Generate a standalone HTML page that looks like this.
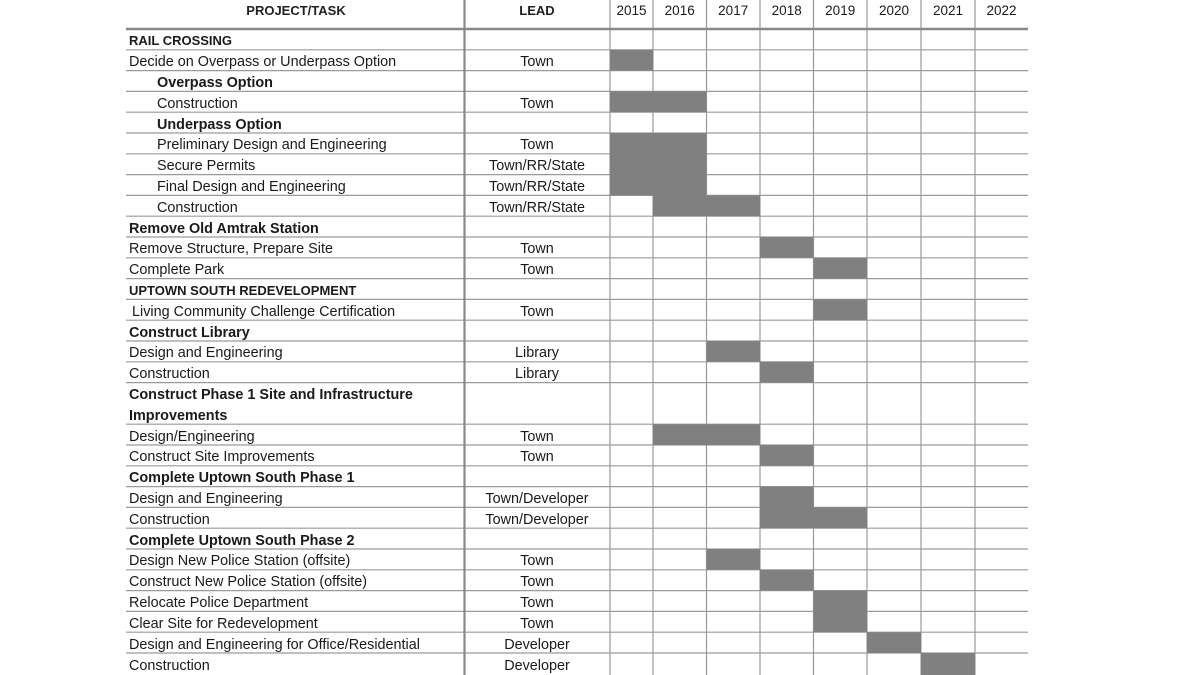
<!DOCTYPE html>
<html><head><meta charset="utf-8"><style>
html,body{margin:0;padding:0;background:#fff;}
svg{display:block;}
text{font-family:"Liberation Sans",sans-serif;font-size:14.4px;fill:#1a1a1a;}
.b{font-weight:bold;}
.c{text-anchor:middle;}
.h{font-size:13px;font-weight:bold;fill:#222;}
.y{font-size:13.5px;fill:#1a1a1a;}
</style></head><body>
<svg width="1200" height="675" viewBox="0 0 1200 675">
<g stroke="#9a9a9a" stroke-width="1.2">
<line x1="126" y1="49.8" x2="1028" y2="49.8"/><line x1="126" y1="70.6" x2="1028" y2="70.6"/><line x1="126" y1="91.4" x2="1028" y2="91.4"/><line x1="126" y1="112.2" x2="1028" y2="112.2"/><line x1="126" y1="133" x2="1028" y2="133"/><line x1="126" y1="153.8" x2="1028" y2="153.8"/><line x1="126" y1="174.6" x2="1028" y2="174.6"/><line x1="126" y1="195.4" x2="1028" y2="195.4"/><line x1="126" y1="216.2" x2="1028" y2="216.2"/><line x1="126" y1="237" x2="1028" y2="237"/><line x1="126" y1="257.8" x2="1028" y2="257.8"/><line x1="126" y1="278.6" x2="1028" y2="278.6"/><line x1="126" y1="299.4" x2="1028" y2="299.4"/><line x1="126" y1="320.2" x2="1028" y2="320.2"/><line x1="126" y1="341" x2="1028" y2="341"/><line x1="126" y1="361.8" x2="1028" y2="361.8"/><line x1="126" y1="382.6" x2="1028" y2="382.6"/><line x1="126" y1="424.2" x2="1028" y2="424.2"/><line x1="126" y1="445" x2="1028" y2="445"/><line x1="126" y1="465.8" x2="1028" y2="465.8"/><line x1="126" y1="486.6" x2="1028" y2="486.6"/><line x1="126" y1="507.4" x2="1028" y2="507.4"/><line x1="126" y1="528.2" x2="1028" y2="528.2"/><line x1="126" y1="549" x2="1028" y2="549"/><line x1="126" y1="569.8" x2="1028" y2="569.8"/><line x1="126" y1="590.6" x2="1028" y2="590.6"/><line x1="126" y1="611.4" x2="1028" y2="611.4"/><line x1="126" y1="632.2" x2="1028" y2="632.2"/><line x1="126" y1="653" x2="1028" y2="653"/>
<line x1="610" y1="0" x2="610" y2="675"/><line x1="653" y1="0" x2="653" y2="675"/><line x1="706.5" y1="0" x2="706.5" y2="675"/><line x1="760" y1="0" x2="760" y2="675"/><line x1="813.5" y1="0" x2="813.5" y2="675"/><line x1="867" y1="0" x2="867" y2="675"/><line x1="921" y1="0" x2="921" y2="675"/><line x1="975" y1="0" x2="975" y2="675"/>
</g>
<line x1="464.5" y1="0" x2="464.5" y2="675" stroke="#888" stroke-width="2.2"/>
<line x1="126" y1="29" x2="1028" y2="29" stroke="#888" stroke-width="2.6"/>
<g fill="#808080">
<rect x="610" y="49.8" width="43" height="20.8"/>
<rect x="610" y="91.4" width="96.5" height="20.8"/>
<rect x="610" y="133" width="96.5" height="62.4"/>
<rect x="653" y="195.4" width="107" height="20.8"/>
<rect x="760" y="237" width="53.5" height="20.8"/>
<rect x="813.5" y="257.8" width="53.5" height="20.8"/>
<rect x="813.5" y="299.4" width="53.5" height="20.8"/>
<rect x="706.5" y="341" width="53.5" height="20.8"/>
<rect x="760" y="361.8" width="53.5" height="20.8"/>
<rect x="653" y="424.2" width="107" height="20.8"/>
<rect x="760" y="445" width="53.5" height="20.8"/>
<rect x="760" y="486.6" width="53.5" height="20.8"/>
<rect x="760" y="507.4" width="107" height="20.8"/>
<rect x="706.5" y="549" width="53.5" height="20.8"/>
<rect x="760" y="569.8" width="53.5" height="20.8"/>
<rect x="813.5" y="590.6" width="53.5" height="41.6"/>
<rect x="867" y="632.2" width="54" height="20.8"/>
<rect x="921" y="653" width="54" height="22"/>
</g>
<g>
<text x="296" y="15" class="c h">PROJECT/TASK</text>
<text x="537" y="15" class="c h">LEAD</text>
<text x="631.5" y="15" class="c y">2015</text>
<text x="679.7" y="15" class="c y">2016</text>
<text x="733.2" y="15" class="c y">2017</text>
<text x="786.7" y="15" class="c y">2018</text>
<text x="840.2" y="15" class="c y">2019</text>
<text x="894" y="15" class="c y">2020</text>
<text x="948" y="15" class="c y">2021</text>
<text x="1001.5" y="15" class="c y">2022</text>

<text x="129" y="45" class="b" style="font-size:13px">RAIL CROSSING</text>
<text x="129" y="66">Decide on Overpass or Underpass Option</text>
<text x="157" y="87" class="b">Overpass Option</text>
<text x="157" y="108">Construction</text>
<text x="157" y="129" class="b">Underpass Option</text>
<text x="157" y="149">Preliminary Design and Engineering</text>
<text x="157" y="170">Secure Permits</text>
<text x="157" y="191">Final Design and Engineering</text>
<text x="157" y="212">Construction</text>
<text x="129" y="233" class="b">Remove Old Amtrak Station</text>
<text x="129" y="253">Remove Structure, Prepare Site</text>
<text x="129" y="274">Complete Park</text>
<text x="129" y="295" class="b" style="font-size:13px">UPTOWN SOUTH REDEVELOPMENT</text>
<text x="132" y="316">Living Community Challenge Certification</text>
<text x="129" y="337" class="b">Construct Library</text>
<text x="129" y="357">Design and Engineering</text>
<text x="129" y="378">Construction</text>
<text x="129" y="399" class="b">Construct Phase 1 Site and Infrastructure</text>
<text x="129" y="420" class="b">Improvements</text>
<text x="129" y="441">Design/Engineering</text>
<text x="129" y="461">Construct Site Improvements</text>
<text x="129" y="482" class="b">Complete Uptown South Phase 1</text>
<text x="129" y="503">Design and Engineering</text>
<text x="129" y="524">Construction</text>
<text x="129" y="545" class="b">Complete Uptown South Phase 2</text>
<text x="129" y="565">Design New Police Station (offsite)</text>
<text x="129" y="586">Construct New Police Station (offsite)</text>
<text x="129" y="607">Relocate Police Department</text>
<text x="129" y="628">Clear Site for Redevelopment</text>
<text x="129" y="649">Design and Engineering for Office/Residential</text>
<text x="129" y="670">Construction</text>

<text x="537" y="66" class="c">Town</text>
<text x="537" y="108" class="c">Town</text>
<text x="537" y="149" class="c">Town</text>
<text x="537" y="170" class="c">Town/RR/State</text>
<text x="537" y="191" class="c">Town/RR/State</text>
<text x="537" y="212" class="c">Town/RR/State</text>
<text x="537" y="253" class="c">Town</text>
<text x="537" y="274" class="c">Town</text>
<text x="537" y="316" class="c">Town</text>
<text x="537" y="357" class="c">Library</text>
<text x="537" y="378" class="c">Library</text>
<text x="537" y="441" class="c">Town</text>
<text x="537" y="461" class="c">Town</text>
<text x="537" y="503" class="c">Town/Developer</text>
<text x="537" y="524" class="c">Town/Developer</text>
<text x="537" y="565" class="c">Town</text>
<text x="537" y="586" class="c">Town</text>
<text x="537" y="607" class="c">Town</text>
<text x="537" y="628" class="c">Town</text>
<text x="537" y="649" class="c">Developer</text>
<text x="537" y="670" class="c">Developer</text>
</g>
</svg>
</body></html>
